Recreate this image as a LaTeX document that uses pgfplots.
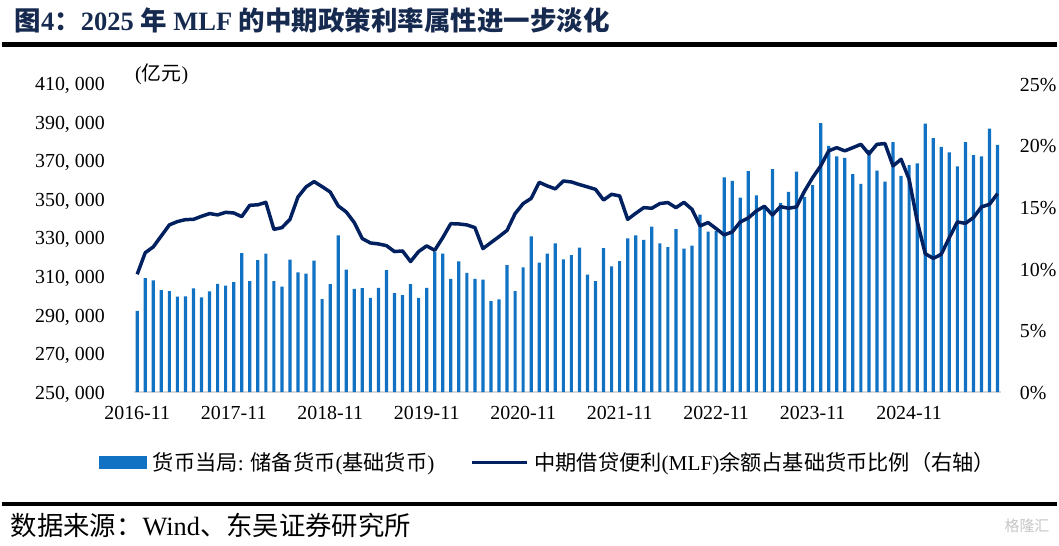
\documentclass[border=0pt]{standalone}
\usepackage{fontspec}
\setmainfont{Liberation Serif}
\newfontfamily\cjk{Noto Sans CJK SC}
\usepackage{pgfplots}
\pgfplotsset{compat=1.18}
\usepackage{pgfplotstable}

\definecolor{barblue}{RGB}{17,114,196}
\definecolor{navy}{RGB}{0,32,96}
\definecolor{titlenavy}{RGB}{22,42,80}
\definecolor{axisgray}{RGB}{217,217,217}

% monthly, index 0 = 2016-11
\pgfplotstableread{
idx mb
0 292200
1 309100
2 307900
3 302900
4 302400
5 299500
6 299600
7 303800
8 299100
9 302200
10 306200
11 305300
12 307000
13 322100
14 307600
15 318500
16 321800
17 307600
18 304700
19 318700
20 312100
21 311400
22 318200
23 298200
24 306000
25 331300
26 313500
27 303600
28 303900
29 298900
30 304100
31 313300
32 301300
33 300300
34 306000
35 298900
36 304100
37 322800
38 321800
39 308800
40 317800
41 311900
42 308800
43 308400
44 297200
45 298100
46 315900
47 302400
48 314700
49 330800
50 317100
51 321800
52 327100
53 318800
54 321100
55 324900
56 310900
57 307600
58 324700
59 315200
60 318000
61 329700
62 331300
63 328900
64 335800
65 327100
66 325200
67 334600
68 324400
69 326000
70 342100
71 333200
72 333500
73 361400
74 359500
75 350900
76 364600
77 352100
78 345300
79 365600
80 348100
81 353800
82 364400
83 351200
84 357400
85 389500
86 377700
87 372300
88 371500
89 363100
90 358000
91 375600
92 364900
93 359200
94 379600
95 362100
96 367700
97 368600
98 389300
99 381700
100 377200
101 374300
102 367100
103 379600
104 372900
105 372300
106 386700
107 378200
}\basemoney

\pgfplotstableread{
idx pct
0 9.55
1 11.3
2 11.77
3 12.66
4 13.55
5 13.82
6 13.98
7 14.0
8 14.25
9 14.47
10 14.36
11 14.57
12 14.52
13 14.22
14 15.14
15 15.18
16 15.38
17 13.19
18 13.33
19 14.0
20 15.82
21 16.63
22 17.06
23 16.65
24 16.22
25 15.09
26 14.6
27 13.74
28 12.44
29 12.09
30 12.01
31 11.87
32 11.39
33 11.44
34 10.58
35 11.39
36 11.85
37 11.49
38 12.52
39 13.65
40 13.63
41 13.55
42 13.33
43 11.63
44 12.12
45 12.6
46 13.11
47 14.47
48 15.28
49 15.7
50 17.0
51 16.71
52 16.47
53 17.11
54 17.03
55 16.82
56 16.63
57 16.43
58 15.57
59 16.03
60 15.9
61 14.0
62 14.49
63 14.95
64 14.9
65 15.28
66 15.36
67 14.95
68 15.38
69 14.81
70 13.47
71 13.74
72 13.25
73 12.74
74 12.98
75 13.79
76 14.11
77 14.68
78 15.06
79 14.36
80 15.03
81 14.9
82 15.01
83 16.3
84 17.38
85 18.33
86 19.55
87 19.81
88 19.55
89 19.81
90 20.08
91 19.3
92 20.08
93 20.14
94 18.33
95 18.87
96 17.25
97 13.87
98 11.22
99 10.84
100 11.17
101 12.52
102 13.79
103 13.68
104 14.14
105 15.01
106 15.22
107 16.09
}\mlfshare

\begin{document}
\begin{tikzpicture}[x=1pt,y=1pt]
\fill[white] (0,0) rectangle (1059,548);

% title and rules
\node[anchor=west, inner sep=0pt, text=titlenavy, font=\fontsize{26.6}{30}\selectfont\bfseries]
  at (12,528) {{\cjk 图}4{\cjk ：}2025 {\cjk 年} MLF {\cjk 的中期政策利率属性进一步淡化}};
\draw[line width=5pt] (0,503) -- (1059,503);
\draw[line width=4pt] (0,42) -- (1059,42);
\node[anchor=west, inner sep=0pt, font=\fontsize{26.5}{30}\selectfont]
  at (8,20) {{\cjk 数据来源：}Wind{\cjk 、东吴证券研究所}};
\node[anchor=east, inner sep=0pt, text=gray!45, font=\fontsize{15}{18}\selectfont]
  at (1052,20) {{\cjk 格隆汇}};
\node[anchor=west, inner sep=0pt, font=\fontsize{20}{24}\selectfont]
  at (133,473) {({\cjk 亿元})};

% left axis: base money
\begin{axis}[
  at={(131.7pt,154pt)}, anchor=south west,
  width=871.3pt, height=310pt, scale only axis,
  xmin=-0.45, xmax=107.4,
  ymin=250000, ymax=410000,
  axis x line*=bottom, axis y line*=left,
  y axis line style={draw=none},
  x axis line style={draw=axisgray, line width=1.5pt},
  major tick length=0pt,
  xtick={0,12,...,96},
  xticklabels={2016-11,2017-11,2018-11,2019-11,2020-11,2021-11,2022-11,2023-11,2024-11},
  ytick={250000,270000,...,410000},
  scaled y ticks=false,
  yticklabel={\pgfmathprintnumber[fixed,precision=0,1000 sep={,\ },assume math mode=true]{\tick}},
  yticklabel style={anchor=east, inner sep=0pt, xshift=-28.7pt, yshift=-2pt},
  xticklabel style={anchor=north, inner sep=0pt, yshift=-14pt},
  tick label style={font=\fontsize{20}{24}\selectfont},
]
\addplot[ybar, bar width=3.2pt, bar shift=0pt, fill=barblue, draw=none]
  table[x=idx, y=mb] {\basemoney};
\end{axis}

% right axis: MLF share
\begin{axis}[
  at={(131.7pt,154pt)}, anchor=south west,
  width=871.3pt, height=310pt, scale only axis,
  xmin=-0.45, xmax=107.4,
  ymin=0, ymax=25,
  axis x line=none,
  axis y line*=right,
  y axis line style={draw=none},
  major tick length=0pt,
  ytick={0,5,...,25},
  yticklabel={\pgfmathprintnumber[assume math mode=true]{\tick}\%},
  yticklabel style={anchor=west, inner sep=0pt, xshift=19pt, yshift=-1pt},
  tick label style={font=\fontsize{20}{24}\selectfont},
  legend columns=2,
  legend cell align=left,
  legend style={at={(0.478,-0.2275)}, anchor=center, draw=none, fill=none,
    font=\fontsize{21.3}{24}\selectfont,
    /tikz/every even column/.append style={column sep=34pt}},
]
\addlegendimage{area legend, fill=barblue, draw=none,
  legend image code/.code={\fill[barblue] (0pt,-6.5pt) rectangle (48pt,6.5pt);}}
\addlegendentry{\hspace{4pt}{\cjk 货币当局}: {\cjk 储备货币}({\cjk 基础货币})}
\addplot[navy, line width=3.5pt, line join=round,
  legend image code/.code={\draw[navy, line width=3.5pt] (0pt,0pt) -- (55pt,0pt);}]
  table[x=idx, y=pct] {\mlfshare};
\addlegendentry{\hspace{4pt}{\cjk 中期借贷便利}(MLF){\cjk 余额占基础货币比例（右轴）}}
\end{axis}
\end{tikzpicture}
\end{document}
